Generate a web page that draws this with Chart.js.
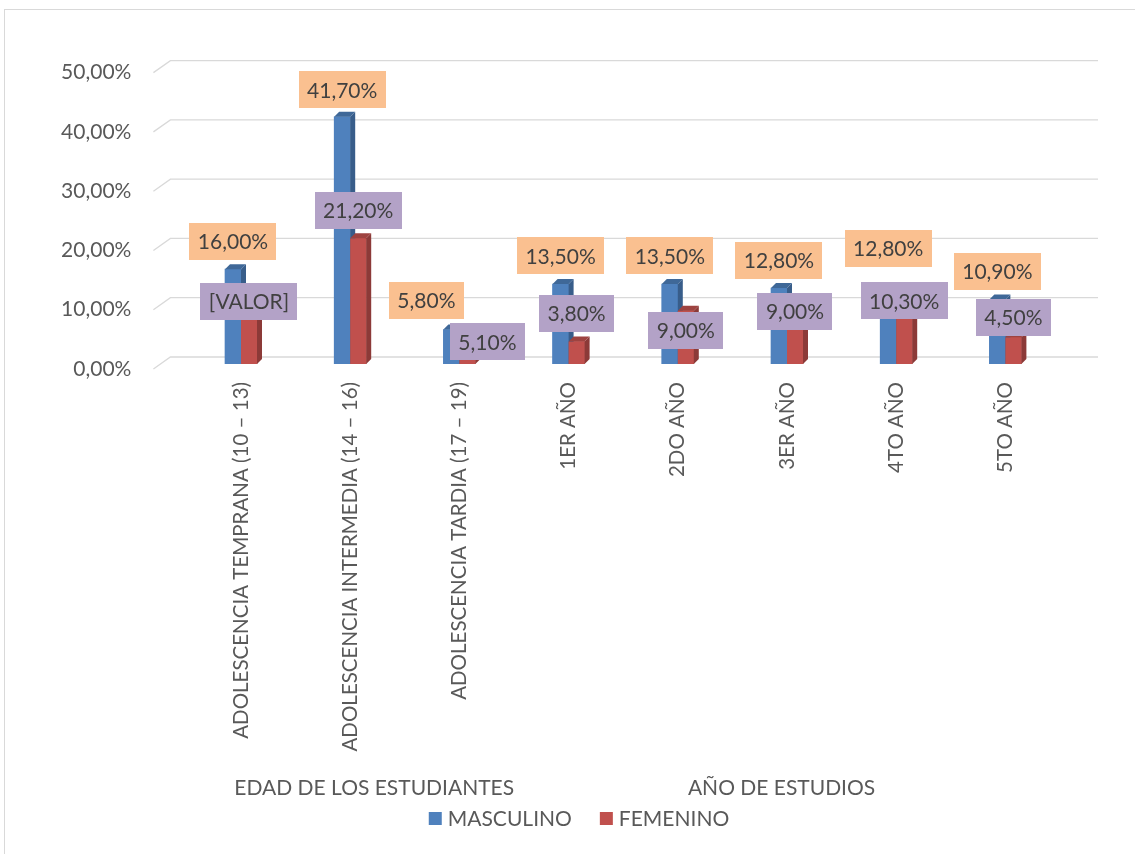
<!DOCTYPE html>
<html>
<head>
<meta charset="utf-8">
<script src="https://cdn.jsdelivr.net/npm/chart.js"></script>
<style>
  html, body { margin: 0; padding: 0; background: #fff; }
  #wrap { position: relative; width: 1135px; height: 854px; }
</style>
</head>
<body>
<div id="wrap"><canvas id="grafico"></canvas></div>
<script>
const categorias = ['ADOLESCENCIA TEMPRANA (10 – 13)', 'ADOLESCENCIA INTERMEDIA (14 – 16)', 'ADOLESCENCIA TARDIA (17 – 19)',
  '1ER AÑO', '2DO AÑO', '3ER AÑO', '4TO AÑO', '5TO AÑO']
const masculino = [16.0, 41.7, 5.8, 13.5, 13.5, 12.8, 12.8, 10.9]
const femenino = [10.2, 21.2, 5.1, 3.8, 9.0, 9.0, 10.3, 4.5]
const textoFemenino = ['[VALOR]', null, null, null, null, null, null, null]
const ticksY = [0, 10, 20, 30, 40, 50]
const grupos = ['EDAD DE LOS ESTUDIANTES', 'AÑO DE ESTUDIOS']
const gruposCentro = [1.22, 4.95]

const FONT = 'Lato'
const TXT = '#595959'
const DX = 5, DY = -5
const colores = [
  { front: '#4F81BD', side: '#385D8A', top: '#3F6898', box: '#FAC090' },
  { front: '#C0504D', side: '#8C3A38', top: '#9E4340', box: '#B3A2C7' }
]
// manual label placement, like the moved labels in the original
const nudges = [
  { dx: [0, 0, -25, 0, 0, 0, 0, 0], dy: [-28, -27, -29, -28, -28, -28, -40, -28] },
  { dx: [0, 0, 20, 0, 0, 0, 0, 0], dy: [-2, -28, 8, -28, 20, 1, -2, -20] }
]

const pct = v => v.toFixed(2).replace('.', ',') + '%'

const decorado = {
  id: 'decorado',
  beforeDatasetsDraw (chart) {
    const { ctx, chartArea: a, scales: { y } } = chart
    ctx.save()
    ctx.strokeStyle = '#d9d9d9'
    ctx.lineWidth = 1.3
    y.ticks.forEach(t => {
      const py = y.getPixelForValue(t.value)
      ctx.beginPath()
      ctx.moveTo(a.left - 33, py + 5)
      ctx.lineTo(a.left - 16, py - 7)
      ctx.lineTo(a.right + 38, py - 7)
      ctx.stroke()
    })
    ctx.restore()
  },
  afterDatasetsDraw (chart) {
    const { ctx } = chart
    const metas = [chart.getDatasetMeta(0), chart.getDatasetMeta(1)]
    ctx.save()
    categorias.forEach((c, i) => {
      metas.forEach((m, d) => {
        const { x, y, base, width } = m.data[i].getProps(['x', 'y', 'base', 'width'], true)
        const l = x - width / 2, r = x + width / 2
        const col = colores[d]
        ctx.fillStyle = col.front
        ctx.fillRect(l, y, width, base - y)
        ctx.fillStyle = col.side
        ctx.beginPath()
        ctx.moveTo(r, y); ctx.lineTo(r + DX, y + DY); ctx.lineTo(r + DX, base + DY); ctx.lineTo(r, base)
        ctx.closePath(); ctx.fill()
        ctx.fillStyle = col.top
        ctx.beginPath()
        ctx.moveTo(l, y); ctx.lineTo(l + DX, y + DY); ctx.lineTo(r + DX, y + DY); ctx.lineTo(r, y)
        ctx.closePath(); ctx.fill()
      })
    })
    ctx.restore()
  },
  afterDraw (chart) {
    const { ctx, scales: { x } } = chart
    ctx.save()
    // data labels
    ctx.font = `21px ${FONT}`
    ctx.textAlign = 'center'
    ctx.textBaseline = 'middle'
    ;[0, 1].forEach(d => {
      const meta = chart.getDatasetMeta(d)
      const vals = chart.data.datasets[d].data
      vals.forEach((v, i) => {
        const bar = meta.data[i]
        let txt = pct(v)
        if (d === 1 && textoFemenino[i]) txt = textoFemenino[i]
        const cx = bar.x + nudges[d].dx[i]
        const cy = bar.y + nudges[d].dy[i]
        const w = ctx.measureText(txt).width + 17
        const h = 37
        ctx.fillStyle = colores[d].box
        ctx.fillRect(Math.round(cx - w / 2), Math.round(cy - h / 2), Math.round(w), h)
        ctx.fillStyle = '#404040'
        ctx.fillText(txt, cx, cy + 1)
      })
    })
    // group titles under the category labels
    ctx.fillStyle = TXT
    grupos.forEach((g, k) => {
      ctx.fillText(g, x.getPixelForValue(gruposCentro[k]), 788)
    })
    // legend
    const items = chart.data.datasets.map((ds, d) => ({ label: ds.label, color: colores[d].front, w: 13 + 6 + ctx.measureText(ds.label).width }))
    const gap = 28
    const total = items.reduce((s, it) => s + it.w, 0) + gap * (items.length - 1)
    let lx = 579 - total / 2
    ctx.textAlign = 'left'
    items.forEach(it => {
      ctx.fillStyle = it.color
      ctx.fillRect(lx, 812, 13, 13)
      ctx.fillStyle = TXT
      ctx.fillText(it.label, lx + 19, 819)
      lx += it.w + gap
    })
    // outer frame
    ctx.strokeStyle = '#d9d9d9'
    ctx.lineWidth = 1
    ctx.strokeRect(4.5, 9.5, 1200, 900)
    ctx.restore()
  }
}

new Chart(document.getElementById('grafico'), {
  type: 'bar',
  data: {
    labels: categorias,
    datasets: [
      { label: 'MASCULINO', data: masculino, backgroundColor: colores[0].front, barThickness: 16 },
      { label: 'FEMENINO', data: femenino, backgroundColor: colores[1].front, barThickness: 16 }
    ]
  },
  options: {
    responsive: true,
    maintainAspectRatio: false,
    animation: false,
    layout: { padding: { left: 0, right: 75, top: 65, bottom: 0 } },
    plugins: {
      legend: { display: false },
      tooltip: { enabled: false }
    },
    scales: {
      y: {
        min: 0,
        max: 50,
        afterBuildTicks: s => { s.ticks = ticksY.map(v => ({ value: v })) },
        afterFit: s => { s.width = 186.4 },
        grid: { display: false, drawTicks: false },
        border: { display: false },
        ticks: {
          callback: v => pct(v),
          color: TXT,
          font: { family: FONT, size: 21 },
          padding: 55,
          labelOffset: 5
        }
      },
      x: {
        afterFit: s => { s.height = 490 },
        grid: { display: false, drawTicks: false },
        border: { display: false },
        ticks: {
          autoSkip: false,
          maxRotation: 90,
          minRotation: 90,
          color: TXT,
          font: { family: FONT, size: 20.5 },
          padding: 18
        }
      }
    }
  },
  plugins: [decorado]
})
</script>
</body>
</html>
